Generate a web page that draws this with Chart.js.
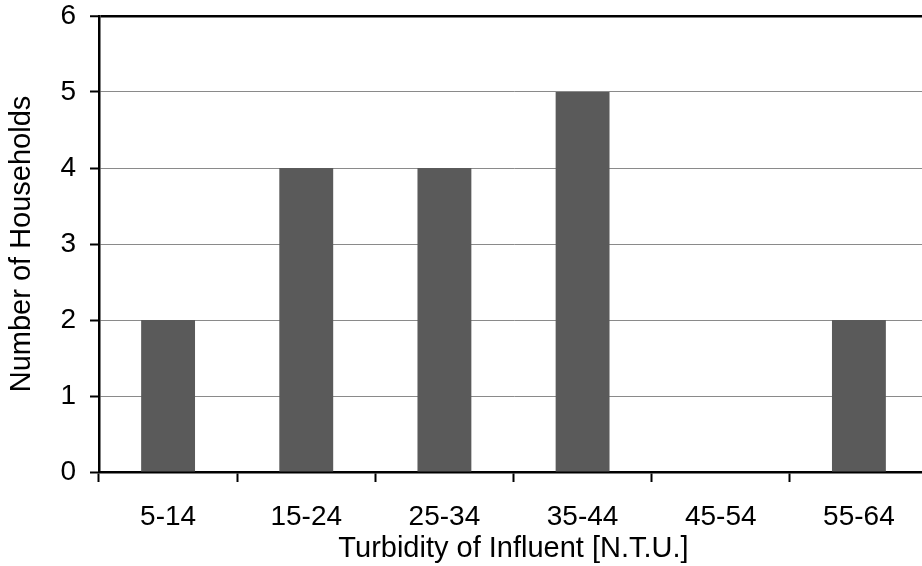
<!DOCTYPE html>
<html>
<head>
<meta charset="utf-8">
<script src="https://cdn.jsdelivr.net/npm/chart.js@4"></script>
<style>
  html, body { margin: 0; padding: 0; background: #fff; overflow: hidden; }
  #wrap { width: 928px; height: 566px; }
</style>
</head>
<body>
<div id="wrap"><canvas id="turbidityChart"></canvas></div>
<script>
// ---------------------- DATA ----------------------
const turbidityRanges = ["5-14", "15-24", "25-34", "35-44", "45-54", "55-64"];
const householdCounts = [2, 4, 4, 5, 0, 2];
const countTicks = [0, 1, 2, 3, 4, 5, 6];

const FONT = "'Liberation Sans', Arial, sans-serif";

// ---------------------- CHART ----------------------
const ctx = document.getElementById("turbidityChart");
new Chart(ctx, {
  type: "bar",
  data: {
    labels: turbidityRanges,
    datasets: [
      {
        label: "Households",
        data: householdCounts,
        backgroundColor: "#5a5a5a",
        borderWidth: 0,
        barPercentage: 0.39,
        categoryPercentage: 1,
      },
    ],
  },
  options: {
    responsive: true,
    maintainAspectRatio: false,
    animation: false,
    layout: { padding: { top: 16, right: 0, left: 0, bottom: 0 } },
    plugins: { legend: { display: false }, tooltip: { enabled: false } },
    scales: {
      x: {
        grid: {
          drawOnChartArea: false,
          drawTicks: true,
          tickLength: 10,
          tickColor: "#000",
          tickWidth: 2,
        },
        border: { color: "#000", width: 2.5 },
        ticks: { color: "#000", font: { family: FONT, size: 28 }, padding: 18 },
        title: {
          display: true,
          text: "Turbidity of Influent [N.T.U.]",
          color: "#000",
          font: { family: FONT, size: 29 },
          padding: { top: 0, bottom: 0 },
        },
        afterFit: (scale) => {
          scale.height = 94;
          scale.paddingLeft = 0;
          scale.paddingRight = 0;
        },
      },
      y: {
        min: 0,
        max: 6,
        afterBuildTicks: (scale) => {
          scale.ticks = countTicks.map((v) => ({ value: v }));
        },
        grid: {
          color: (c) => (c.tick && c.tick.value === 6 ? "#000" : "#8a8a8a"),
          lineWidth: (c) => (c.tick && c.tick.value === 6 ? 2.5 : 1),
          tickLength: 9,
          tickColor: "#000",
          tickWidth: 2,
        },
        border: { color: "#000", width: 2.5 },
        ticks: { color: "#000", font: { family: FONT, size: 28 }, padding: 14 },
        title: {
          display: true,
          text: "Number of Households",
          color: "#000",
          font: { family: FONT, size: 29 },
          padding: { top: 5, bottom: 0 },
        },
        afterFit: (scale) => {
          scale.width = 99;
          scale.paddingTop = 0;
          scale.paddingBottom = 0;
        },
      },
    },
  },
});
</script>
</body>
</html>
